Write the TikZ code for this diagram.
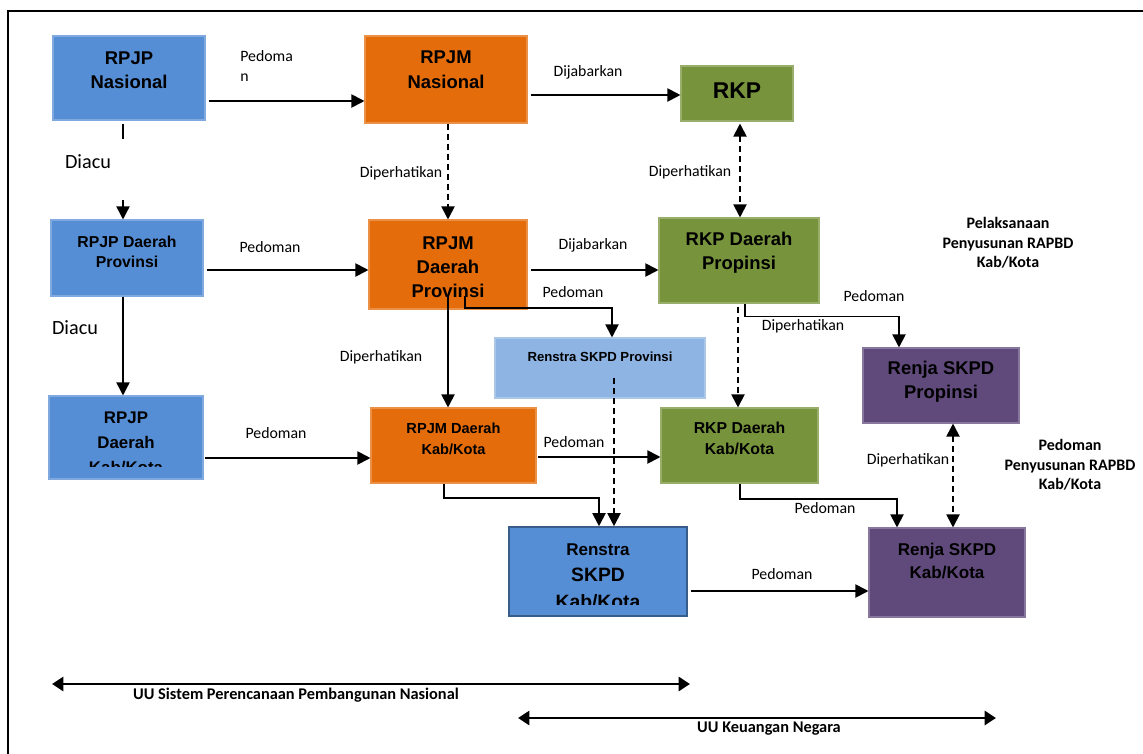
\documentclass[tikz,border=0pt]{standalone}
\usepackage{fontspec}
\setmainfont{Liberation Sans}
\newfontfamily\calibri{Carlito}
\usetikzlibrary{positioning, arrows.meta}

\definecolor{cblue}{RGB}{85,142,213}
\definecolor{corange}{RGB}{228,108,10}
\definecolor{cgreen}{RGB}{119,147,60}
\definecolor{clight}{RGB}{142,180,227}
\definecolor{cpurple}{RGB}{96,74,123}
\definecolor{cedge}{RGB}{56,93,138}

\begin{document}
\begin{tikzpicture}[
  x=0.02cm, y=-0.02cm,
  box/.style={rectangle, inner sep=0, line width=0.6pt, fill=#1, draw=#1!75!white},
  sz/.style 2 args={minimum width=#1*0.02cm, minimum height=#2*0.02cm},
  ttl/.style 2 args={align=center, inner sep=0, font=\bfseries\fontsize{#1}{#2}\selectfont},
  lbl/.style={inner sep=0, font=\calibri\fontsize{9}{11}\selectfont},
  note/.style={inner sep=0, align=center, font=\calibri\bfseries\fontsize{9.1}{11}\selectfont},
  arr/.style={line width=1.1pt, -{Triangle[length=7.5pt, width=7.5pt]}},
  darr/.style={arr, dash pattern=on 3.4pt off 2.3pt},
  ddarr/.style={darr, {Triangle[length=7.5pt, width=7.5pt]}-{Triangle[length=7.5pt, width=7.5pt]}},
  uarr/.style={line width=1.6pt, {Triangle[length=6.5pt, width=8pt]}-{Triangle[length=6.5pt, width=8pt]}}
]
\useasboundingbox (0,0) rectangle (1143,754);

% frame
\draw[line width=1.1pt] (1143,11) -- (8,11) -- (8,754);

% national level
\node[box=cblue, sz={152}{84}] (rpjpnas) at (129,78) {};
\node[ttl={10.5}{13.6}] (rpjpnas-t) at (129,70) {RPJP\\Nasional};
\node[box=corange, sz={162}{87}] (rpjmnas) at (446,79.5) {};
\node[ttl={10.5}{14}] (rpjmnas-t) at (446,70) {RPJM\\Nasional};
\node[box=cgreen, sz={112}{55}] (rkp) at (737,93.5) {};
\node[ttl={13}{15}] (rkp-t) at (737,91) {RKP};

% provinsi level
\node[box=cblue, sz={152}{76}] (rpjpprov) at (127,258) {};
\node[ttl={9}{11.3}] (rpjpprov-t) at (127,252) {RPJP Daerah\\Provinsi};
\node[box=corange, sz={158}{89}] (rpjmprov) at (448,264.5) {};
\node[ttl={10.5}{13.8}] (rpjmprov-t) at (448,267) {RPJM\\Daerah\\Provinsi};
\node[box=cgreen, sz={160}{85}] (rkpprov) at (739,260.5) {};
\node[ttl={10.5}{13.6}] (rkpprov-t) at (739,253) {RKP Daerah\\Propinsi};
\node[box=clight, sz={210}{60}] (renstraprov) at (600,368) {};
\node[ttl={7.5}{9}] (renstraprov-t) at (600,357) {Renstra SKPD Provinsi};
\node[box=cpurple, sz={156}{75}] (renjaprov) at (941,385.5) {};
\node[ttl={10.5}{13.6}] (renjaprov-t) at (941,382) {Renja SKPD\\Propinsi};

% kab/kota level
\node[box=cblue, sz={154}{83}] (rpjpkab) at (126,437.5) {};
\begin{scope}
  \clip (rpjpkab.north west) rectangle (rpjpkab.east |- 0,466);
  \node[ttl={9.6}{14.2}] (rpjpkab-t) at (126,443) {RPJP\\Daerah\\Kab/Kota};
\end{scope}
\node[box=corange, sz={165}{75}] (rpjmkab) at (453.5,445.5) {};
\node[ttl={8.3}{12}] (rpjmkab-t) at (453.5,438.5) {RPJM Daerah\\Kab/Kota};
\node[box=cgreen, sz={157}{75}] (rkpkab) at (739.5,445.5) {};
\node[ttl={9}{12}] (rkpkab-t) at (739.5,438.5) {RKP Daerah\\Kab/Kota};
\node[box=cblue, draw=cedge, line width=0.9pt, sz={178}{89}] (renstrakab) at (598,571.5) {};
\begin{scope}
  \clip (renstrakab.north west) rectangle (renstrakab.east |- 0,604);
  \node[ttl={9.7}{15}] (renstrakab-t) at (598,576) {Renstra\\{\fontsize{11}{15}\selectfont SKPD}\\{\fontsize{11}{15}\selectfont Kab/Kota}};
\end{scope}
\node[box=cpurple, sz={156}{89}] (renjakab) at (947,572.5) {};
\node[ttl={9.7}{13.6}] (renjakab-t) at (947,561) {Renja SKPD\\Kab/Kota};

% free ends
\coordinate (diacu1) at (123,200);
\coordinate (rpjmprov-a) at (465,296);
\coordinate (rpjmprov-b) at (448,296);
\coordinate (renstraprov-a) at (614,378);

% horizontal connectors
\draw[arr, shorten <=2pt] (rpjpnas.east |- 0,101) -- (rpjmnas.west |- 0,101);
\draw[arr, shorten <=2pt] (rpjmnas.east |- 0,95) -- (rkp.west |- 0,95);
\draw[arr, shorten <=2pt] (rpjpprov.east |- 0,270) -- (rpjmprov.west |- 0,270);
\draw[arr, shorten <=2pt] (rpjmprov.east |- 0,270) -- (rkpprov.west |- 0,270);
\draw[arr, shorten <=1pt] (rpjpkab.east |- 0,458) -- (rpjmkab.west |- 0,458);
\draw[arr, shorten <=1pt] (rpjmkab.east |- 0,457) -- (rkpkab.west |- 0,457);
\draw[arr, shorten <=2pt] (renstrakab.east |- 0,591) -- (renjakab.west |- 0,591);

% vertical connectors
\draw[line width=0.9pt] (rpjpnas.south -| 123,0) ++(0,3) -- ++(0,15);
\draw[arr, line width=0.9pt] (diacu1) -- (rpjpprov.north -| diacu1);
\draw[arr, line width=0.9pt] (rpjpprov.south -| 123,0) -- (rpjpkab.north -| 123,0);
\draw[darr] (rpjmnas.south -| 448,0) -- (rpjmprov.north -| 448,0);
\draw[ddarr] (rkp.south -| 740,0) ++(0,2) -- (rkpprov.north -| 740,0);
\draw[arr] (rpjmprov-b) -- (rpjmkab.north -| rpjmprov-b);
\draw[darr] (rkpprov.south -| 738,0) ++(0,3) -- (rkpkab.north -| 738,0);
\draw[ddarr] (renjaprov.south -| 953,0) -- (renjakab.north -| 953,0);
\draw[darr] (renstraprov-a) -- (renstrakab.north -| renstraprov-a);

% elbow connectors
\draw[arr] (rpjmprov-a) -- ++(0,12) -| (renstraprov.north -| 612,0);
\draw[arr] (rkpprov.south -| 745,0) -- ++(0,13) -| (renjaprov.north -| 899,0);
\draw[arr] (rpjmkab.south -| 444,0) -- ++(0,14) -| (renstrakab.north -| 599,0);
\draw[arr] (rkpkab.south -| 740,0) -- ++(0,15) -| (renjakab.north -| 897,0);

% labels
\node[lbl, align=left, anchor=west] (l-pedoma) at (240,66) {Pedoma\\n};
\node[lbl] (l-dijab1) at (588,72) {Dijabarkan};
\node[lbl] (l-diper1) at (401,173) {Diperhatikan};
\node[lbl] (l-diper2) at (690,172) {Diperhatikan};
\node[lbl, font=\calibri\fontsize{11.5}{13}\selectfont] (l-diacu1) at (88,162) {Diacu};
\node[lbl] (l-pedoman1) at (270,247) {Pedoman};
\node[lbl] (l-dijab2) at (593,245) {Dijabarkan};
\node[lbl] (l-pedoman2) at (573,292) {Pedoman};
\node[lbl] (l-pedoman3) at (874,296) {Pedoman};
\node[lbl] (l-diper3) at (803,326) {Diperhatikan};
\node[lbl, font=\calibri\fontsize{11.5}{13}\selectfont] (l-diacu2) at (75,328) {Diacu};
\node[lbl] (l-diper4) at (381,357) {Diperhatikan};
\node[lbl] (l-pedoman4) at (276,433) {Pedoman};
\node[lbl] (l-pedoman5) at (574,442) {Pedoman};
\node[lbl] (l-diper5) at (908,460) {Diperhatikan};
\node[lbl] (l-pedoman6) at (825,508) {Pedoman};
\node[lbl] (l-pedoman7) at (782,574) {Pedoman};

\node[note] (n-pelaksanaan) at (1008,243) {Pelaksanaan\\Penyusunan RAPBD\\Kab/Kota};
\node[note] (n-pedoman) at (1070,465) {Pedoman\\Penyusunan RAPBD\\Kab/Kota};

% undang-undang
\coordinate (uu1a) at (52,684);
\coordinate (uu1b) at (690,684);
\coordinate (uu2a) at (518,718);
\coordinate (uu2b) at (996,718);
\draw[uarr] (uu1a) -- (uu1b);
\draw[uarr] (uu2a) -- (uu2b);
\node[note, font=\calibri\bfseries\fontsize{9.3}{11}\selectfont] (n-uu1) at (296,695) {UU Sistem Perencanaan Pembangunan Nasional};
\node[note, font=\calibri\bfseries\fontsize{9.3}{11}\selectfont] (n-uu2) at (769,729) {UU Keuangan Negara};

\end{tikzpicture}
\end{document}
